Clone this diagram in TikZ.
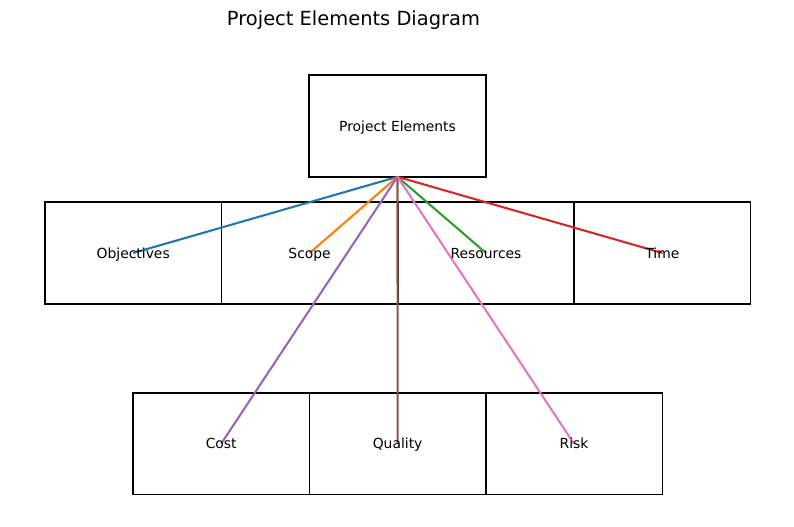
\documentclass[tikz,border=0pt]{standalone}
\usepackage{fontspec}
\setmainfont{DejaVu Sans}
\definecolor{tabblue}{HTML}{1F77B4}
\definecolor{taborange}{HTML}{FF7F0E}
\definecolor{tabgreen}{HTML}{2CA02C}
\definecolor{tabred}{HTML}{D62728}
\definecolor{tabpurple}{HTML}{9467BD}
\definecolor{tabbrown}{HTML}{8C564B}
\definecolor{tabpink}{HTML}{E377C2}
\begin{document}
\begin{tikzpicture}[x=0.72pt,y=-0.72pt,
  elembox/.style={draw=black,line width=1pt,rectangle,minimum width=127.2pt,minimum height=73.2pt,inner sep=0pt,outer sep=0pt},
  elemlabel/.style={font=\fontsize{10}{12}\selectfont,inner sep=0pt,anchor=base},
  link/.style={line width=1.5pt}]
\useasboundingbox (0,0) rectangle (794,526);
\node[font=\fontsize{14}{17}\selectfont,anchor=base,inner sep=0pt] (title) at (353.5,25) {Project Elements Diagram};
% boxes
\node[elembox] (pe) at (397.5,126) {};
\node[elembox] (obj) at (133.2,253) {};
\node[elembox] (sco) at (309.6,253) {};
\node[elembox] (res) at (486,253) {};
\node[elembox] (tim) at (662.4,253) {};
\node[elembox] (cos) at (221.2,443.7) {};
\node[elembox] (qua) at (397.6,443.7) {};
\node[elembox] (ris) at (574,443.7) {};
% connectors
\draw[link,tabblue] (pe.south) -- (obj.center);
\draw[link,taborange] (pe.south) -- (sco.center);
\draw[link,tabgreen] (pe.south) -- (res.center);
\draw[link,tabred] (pe.south) -- (tim.center);
\draw[link,tabpurple] (pe.south) -- (cos.center);
\draw[link,tabbrown] (pe.south) -- (qua.center);
\draw[link,tabpink] (pe.south) -- (ris.center);
% labels
\node[elemlabel] (lpe) at ([yshift=-3.6pt]pe.center) {Project Elements};
\node[elemlabel] (lobj) at ([yshift=-3.6pt]obj.center) {Objectives};
\node[elemlabel] (lsco) at ([yshift=-3.6pt]sco.center) {Scope};
\node[elemlabel] (lres) at ([yshift=-3.6pt]res.center) {Resources};
\node[elemlabel] (ltim) at ([yshift=-3.6pt]tim.center) {Time};
\node[elemlabel] (lcos) at ([yshift=-3.6pt]cos.center) {Cost};
\node[elemlabel] (lqua) at ([yshift=-3.6pt]qua.center) {Quality};
\node[elemlabel] (lris) at ([yshift=-3.6pt]ris.center) {Risk};
\end{tikzpicture}
\end{document}
